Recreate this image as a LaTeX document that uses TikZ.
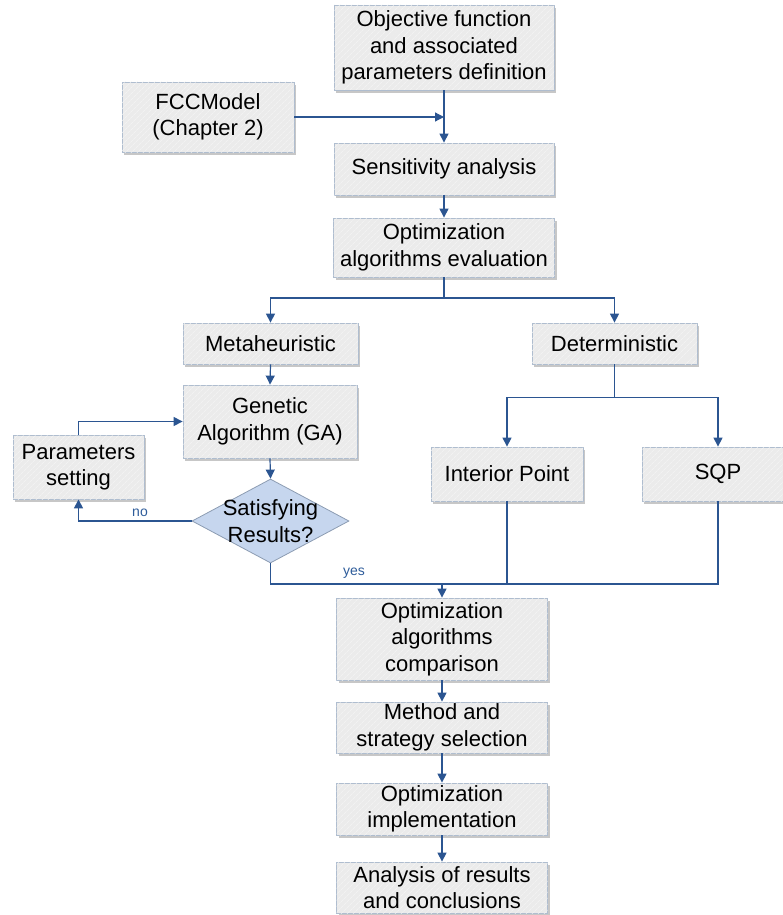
\documentclass[tikz,border=0pt]{standalone}
\usepackage{fontspec}
\setmainfont{Liberation Sans}
\usetikzlibrary{arrows.meta,shapes.geometric,shadows,patterns.meta}

\definecolor{boxfill}{HTML}{EBEBEB}
\definecolor{boxhatch}{HTML}{F6F6F6}
\definecolor{boxline}{HTML}{AFBDCF}
\definecolor{connblue}{HTML}{2B5591}
\definecolor{decfill}{HTML}{C6D6EE}
\definecolor{decline}{HTML}{8C9CB2}
\definecolor{labelblue}{HTML}{2E5C9A}

\tikzset{
  stepbox/.style={
    rectangle, draw=boxline, line width=0.8pt, fill=boxfill,
    drop shadow={shadow xshift=2pt, shadow yshift=-3pt, fill=black!22, opacity=1},
    postaction={pattern={Lines[angle=45,distance=4pt,line width=0.6pt]}, pattern color=boxhatch},
    align=center, inner sep=0pt,
    font=\fontsize{22}{26.5}\selectfont
  },
  decision/.style={
    diamond, draw=decline, line width=0.8pt, fill=decfill,
    inner sep=0pt, minimum width=157pt, minimum height=84pt
  },
  conn/.style={draw=connblue, line width=1.2pt},
  flow/.style={conn, -{Triangle[length=9pt,width=9pt]}},
  branchlabel/.style={font=\fontsize{14}{16}\selectfont, text=labelblue, inner sep=0pt}
}

\begin{document}
\begin{tikzpicture}[x=1pt,y=-1pt]
\useasboundingbox (0,0) rectangle (783,915);
\clip (0,0) rectangle (783,915);

% process steps
\node[stepbox, minimum width=220pt, minimum height=85pt] (obj) at (444,47.5)
  {Objective function\\and associated\\parameters definition};
\node[stepbox, minimum width=172pt, minimum height=70pt] (fcc) at (208,117)
  {FCCModel\\(Chapter 2)};
\node[stepbox, minimum width=220pt, minimum height=52pt] (sens) at (444,169)
  {Sensitivity analysis};
\node[stepbox, minimum width=221pt, minimum height=59pt] (eval) at (444,247.5)
  {Optimization\\algorithms evaluation};
\node[stepbox, minimum width=175pt, minimum height=41pt] (meta) at (270.5,343.5)
  {Metaheuristic};
\node[stepbox, minimum width=165pt, minimum height=41pt] (det) at (614.5,343.5)
  {Deterministic};
\node[stepbox, minimum width=174pt, minimum height=73pt] (ga) at (270,421.5)
  {Genetic\\Algorithm (GA)};
\node[stepbox, minimum width=131pt, minimum height=64pt] (par) at (78.5,467)
  {Parameters\\setting};
\node[decision,
  label={[font=\fontsize{22}{26.5}\selectfont, align=center, inner sep=0pt]center:Satisfying\\Results?}]
  (dec) at (270.5,521) {};
\node[stepbox, minimum width=152pt, minimum height=54pt] (ip) at (507,474)
  {Interior Point};
\node[stepbox, minimum width=152pt, minimum height=54pt] (sqp) at (718,474)
  {SQP};
\node[stepbox, minimum width=211pt, minimum height=82pt] (comp) at (442,639)
  {Optimization\\algorithms\\comparison};
\node[stepbox, minimum width=211pt, minimum height=51pt] (sel) at (442,727.5)
  {Method and\\strategy selection};
\node[stepbox, minimum width=211pt, minimum height=52pt] (impl) at (442,809)
  {Optimization\\implementation};
\node[stepbox, minimum width=211pt, minimum height=51pt] (res) at (442,887.5)
  {Analysis of results\\and conclusions};

% connectors
\draw[flow] (obj.south) -- (obj.south |- sens.north);
\draw[flow] (fcc.east) -- (fcc.east -| obj.south);
\draw[flow] (sens.south) -- (eval.north);
\draw[flow] (eval.south) -- ++(0,20.5) -| (meta.north);
\draw[flow] (eval.south) -- ++(0,20.5) -| (det.north);
\draw[flow] (meta.south) -- (ga.north);
\draw[flow] (ga.south) -- (dec.north);
\draw[flow] (dec.west) -| (par.south);
\draw[flow] (par.north) |- (ga.west);
\draw[flow] (det.south) -- ++(0,33) -| (ip.north);
\draw[flow] (det.south) -- ++(0,33) -| (sqp.north);

\coordinate (bus) at (0,584);
\draw[conn] (dec.south) -- (dec.south |- bus) -- (sqp.south |- bus) -- (sqp.south);
\draw[conn] (ip.south) -- (ip.south |- bus);
\draw[flow] (comp.north |- bus) -- (comp.north);
\draw[flow] (comp.south) -- (sel.north);
\draw[flow] (sel.south) -- (impl.north);
\draw[flow] (impl.south) -- (res.north);

% branch labels
\node[branchlabel] (nolab) at (140,513) {no};
\node[branchlabel] (yeslab) at (354,573) {yes};
\end{tikzpicture}
\end{document}
